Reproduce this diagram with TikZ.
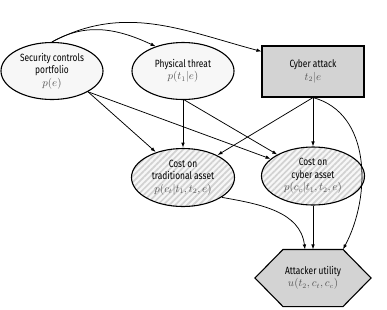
\documentclass[tikz,border=0pt]{standalone}
\usepackage{fontspec}
\setmainfont{Fira Sans}[FakeStretch=0.8]
\usetikzlibrary{shapes.geometric,arrows.meta,patterns.meta}
\pgfdeclarelayer{background}
\pgfsetlayers{background,main}
\definecolor{nodefill}{HTML}{F7F7F7}
\definecolor{boxfill}{HTML}{D3D3D3}
\definecolor{mathgray}{HTML}{555555}
\newcommand{\mg}[1]{\textcolor{mathgray}{$#1$}}
\tikzset{
  base/.style={align=center, font=\fontsize{10.5}{12.5}\selectfont, inner sep=0pt, line width=1.1pt},
  ell/.style={base, ellipse, draw, fill=nodefill, minimum width=102pt, minimum height=57pt},
  hatch/.style={base, ellipse, draw, preaction={fill=gray!6}, pattern={Lines[angle=45,distance=4.2pt,line width=1.7pt]}, pattern color=gray!35, minimum width=103pt, minimum height=58pt},
  boxnode/.style={base, rectangle, draw, fill=boxfill, minimum width=102pt, minimum height=51pt},
  hexnode/.style={base, rectangle, minimum width=115pt, minimum height=56pt},
  conn/.style={line width=0.75pt, -{Latex[length=5pt,width=3.6pt]}}
}
\begin{document}
\begin{tikzpicture}[x=1pt,y=-1pt]
\useasboundingbox (0,0) rectangle (387,309);
\node[ell] (sec) at (52,71) {Security controls\\portfolio\\\mg{p(e)}};
\node[ell] (phys) at (183,71) {Physical threat\\\mg{p(t_1|e)}};
\node[boxnode] (cyb) at (313,71.5) {Cyber attack\\\mg{t_2|e}};
\node[hatch] (trad) at (183,177.5) {Cost on\\traditional asset\\\mg{p(c_t|t_1,t_2,e)}};
\node[hatch] (cc) at (313,176) {Cost on\\cyber asset\\\mg{p(c_c|t_1,t_2,e)}};
\node[hexnode] (util) at (313,278) {Attacker utility\\\mg{u(t_2,c_t,c_c)}};
\begin{pgfonlayer}{background}
\draw[line width=1.1pt, fill=boxfill] (util.west) -- ([xshift=-30pt]util.north) -- ([xshift=30pt]util.north) -- (util.east) -- ([xshift=30pt]util.south) -- ([xshift=-30pt]util.south) -- cycle;
\end{pgfonlayer}
% curved
\draw[conn] (sec.north) to[out=30,in=155] (phys.138);
\draw[conn] (sec.north) to[out=28,in=165] ([yshift=-6pt]cyb.north west);
% straight
\draw[conn] (sec.-30) -- (trad.137);
\draw[conn] (sec.-30) -- (cc.158);
\draw[conn] (phys.south) -- (trad.north);
\draw[conn] (phys.-87) -- (cc.149);
\draw[conn] (cyb.south) -- (trad.33);
\draw[conn] (cyb.south) -- (cc.north);
\draw[conn] (cc.south) -- (util.north);
\draw[conn] (trad.-27) to[out=-10,in=97] ([xshift=-8pt]util.north);
\draw[conn] (cyb.south) to[out=-15,in=62] ([xshift=30pt]util.north);
\end{tikzpicture}
\end{document}
